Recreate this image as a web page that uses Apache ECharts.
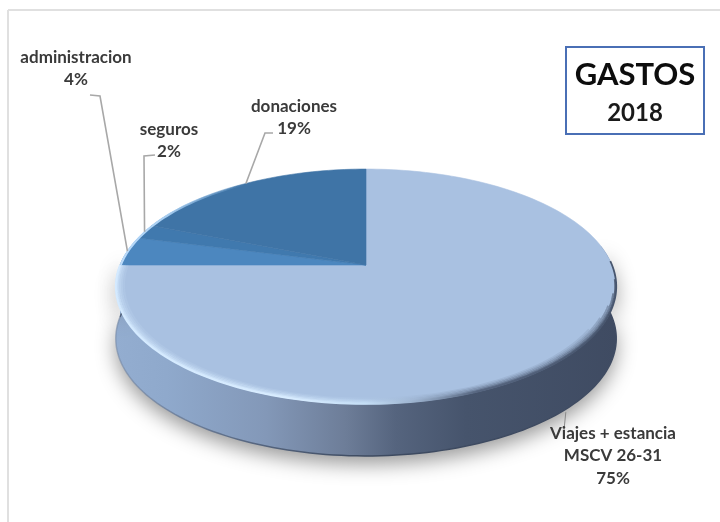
<!DOCTYPE html>
<html><head><meta charset="utf-8">
<style>html,body{margin:0;padding:0;background:#fff}#c{width:720px;height:522px}</style>
<script src="https://cdn.jsdelivr.net/npm/echarts@6/dist/echarts.min.js"></script>
</head><body><div id="c"></div>
<script>
const categories = ['Viajes + estancia\nMSCV 26-31', 'administracion', 'seguros', 'donaciones'];
const values = [75, 4, 2, 19];
const faceColors = ['#a9c1e1', '#4c87bf', '#4079ae', '#3f74a6'];
const labelCenters = [[613, 433], [76, 57], [169, 129], [294, 106]];
const leaderElbows = [[[564, 430]], [[100, 96], [90, 95]], [[144, 156], [155, 155]], [[265, 133], [273, 133]]];
const titleText = 'GASTOS';
const yearText = '2018';

// Projection of the tilted pie disc onto the page (perspective, as in a 3D pie).
const CX = 366, CY = 265, RX = 246, TILT = 0.183, SLOPE = -65, DEPTH = 52;
function project(deg, drop, k) {
  const a = deg * Math.PI / 180, r = k === undefined ? 1 : k, X = r * Math.sin(a), Y = r * Math.cos(a), w = 1 + TILT * Y;
  return [CX + RX * X / w, (CY + SLOPE * Y) / w + (drop || 0)];
}
function arc(from, to, drop, k) {
  const n = Math.max(2, Math.ceil(Math.abs(to - from) / 1.5)), pts = [];
  for (let i = 0; i <= n; i++) pts.push(project(from + (to - from) * i / n, drop, k));
  return pts;
}
const total = values.reduce((s, v) => s + v, 0);
const starts = values.map((_, i) => values.slice(0, i).reduce((s, v) => s + v, 0) * 360 / total);
const Grad = (stops) => new echarts.graphic.LinearGradient(0, 0, 1, 0, stops.map(s => ({ offset: s[0], color: s[1] })));
const FRONT = [80, 275];
const rimLayers = [[0.968, 0.12, 122], [0.976, 0.25, 116], [0.983, 0.4, 110], [0.99, 0.6, 104], [0.996, 0.85, 97], [1, 1, 88]];

function wallItem(params, api) {
  const i = params.dataIndex, from = Math.max(starts[i], FRONT[0]), to = Math.min(starts[i] + api.value(0) * 3.6, FRONT[1]);
  if (to <= from) return null;
  const top = arc(from, to, 0), bottom = arc(from, to, DEPTH);
  return { type: 'group', children: [
    { type: 'polygon', shape: { points: top.concat(bottom.slice().reverse()) },
      style: { fill: Grad([[0, '#93add0'], [0.1, '#8fa9cc'], [0.3, '#8398b8'], [0.46, '#6d7d98'], [0.56, '#55647e'], [0.7, '#46546c'], [1, '#3f4b62']]),
        shadowBlur: 20, shadowColor: 'rgba(50,50,50,0.5)', shadowOffsetY: 8, shadowOffsetX: 0 } },
    { type: 'polyline', shape: { points: bottom },
      style: { fill: null, lineWidth: 1.5, stroke: Grad([[0, 'rgba(120,140,170,0.6)'], [0.25, '#5a6a84'], [0.5, '#3d4a60'], [1, '#3f4b62']]) } }
  ]};
}
function faceItem(params, api) {
  const i = params.dataIndex, s = starts[i], e = s + api.value(0) * 3.6;
  return { type: 'polygon', shape: { points: [[CX, CY]].concat(arc(s, e, 0)) },
    style: { fill: faceColors[i], stroke: faceColors[i], lineWidth: 0.6 } };
}
function rimItem(params) {
  if (params.dataIndex !== 0) return null;
  const layers = rimLayers.map(l => ({ type: 'polyline', shape: { points: arc(l[2], 270, 0, l[0]) },
    style: { fill: null, lineWidth: 1.8, opacity: l[1], stroke: Grad([[0, '#d4eaff'], [0.35, '#d8ecff'], [0.5, '#c4def6'], [0.6, '#9ab0cc'], [0.72, '#56657f'], [1, '#47556d']]) } }));
  layers.push({ type: 'polyline', shape: { points: arc(270, 325, 0, 0.997) },
    style: { fill: null, lineWidth: 2.2, stroke: Grad([[0, '#bcdcfb'], [0.35, '#a9cff2'], [1, 'rgba(150,195,235,0)']]) } });
  return { type: 'group', children: layers };
}
function labelItem(params, api) {
  const i = params.dataIndex, s = starts[i], mid = s + api.value(0) * 1.8;
  const anchor = project(mid, i === 0 ? DEPTH + 3 : 0);
  const pct = Math.round(api.value(0) * 100 / total) + '%';
  const [lx, ly] = labelCenters[i];
  return { type: 'group', children: [
    { type: 'polyline', shape: { points: [anchor].concat(leaderElbows[i]) },
      style: { fill: null, stroke: i === 0 ? '#8a8a8a' : '#a8a8a8', lineWidth: i === 0 ? 1 : 1.6 } },
    { type: 'text', style: { text: categories[i] + '\n' + pct, x: lx, y: ly - 11, align: 'center', verticalAlign: 'top',
      fill: '#3a3a3a', font: 'bold 17px Lato, sans-serif', lineHeight: 22.5 } }
  ]};
}
const base = { type: 'custom', coordinateSystem: 'none', silent: true, animation: false, data: values };
const chart = echarts.init(document.getElementById('c'), null, { renderer: 'canvas' });
chart.setOption({
  animation: false,
  backgroundColor: '#ffffff',
  graphic: [
    { type: 'line', shape: { x1: 8, y1: 10, x2: 720, y2: 10 }, style: { stroke: '#e0e0e0', lineWidth: 2 }, z: 0 },
    { type: 'line', shape: { x1: 8, y1: 10, x2: 8, y2: 522 }, style: { stroke: '#e0e0e0', lineWidth: 2 }, z: 0 },
    { type: 'rect', shape: { x: 566, y: 47, width: 138, height: 87 }, style: { fill: '#fff', stroke: '#4a6fb5', lineWidth: 2 } },
    { type: 'text', style: { text: titleText, x: 635, y: 75, align: 'center', verticalAlign: 'middle', fill: '#0d0d0d', font: 'bold 31px Lato, sans-serif' } },
    { type: 'text', style: { text: yearText, x: 635, y: 113, align: 'center', verticalAlign: 'middle', fill: '#1a1a1a', font: 'bold 24px Lato, sans-serif' } }
  ],
  series: [
    Object.assign({}, base, { name: 'wall', renderItem: wallItem, z: 1 }),
    Object.assign({}, base, { name: 'face', renderItem: faceItem, z: 2 }),
    Object.assign({}, base, { name: 'rim', renderItem: rimItem, z: 3 }),
    Object.assign({}, base, { name: 'labels', renderItem: labelItem, z: 4 })
  ]
});
</script></body></html>
